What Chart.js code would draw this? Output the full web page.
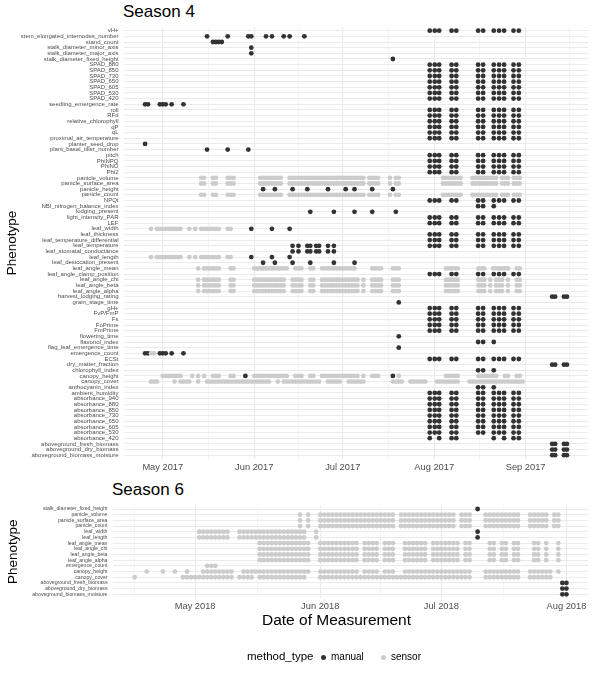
<!DOCTYPE html>
<html>
<head>
<meta charset="utf-8">
<script src="https://cdn.jsdelivr.net/npm/chart.js@4.4.0/dist/chart.umd.min.js"></script>
<style>
  html, body { margin: 0; padding: 0; background: #fff; }
  body { width: 595px; height: 680px; position: relative; overflow: hidden; font-family: "Liberation Sans", Arial, sans-serif; }
  canvas { position: absolute; left: 0; }
  .txt { position: absolute; white-space: nowrap; line-height: 1; color: #000; }
  .dot { position: absolute; width: 5px; height: 5px; border-radius: 50%; }
</style>
</head>
<body>
<div class="txt" style="left:123px;top:3px;font-size:17px;">Season 4</div>
<canvas id="c4" width="595" height="480" style="top:0px"></canvas>
<div class="txt" style="left:112px;top:481px;font-size:17px;">Season 6</div>
<canvas id="c6" width="595" height="150" style="top:480px"></canvas>
<div class="txt" style="left:262px;top:612px;font-size:15.5px;">Date of Measurement</div>
<div class="txt" style="left:247px;top:651px;font-size:11.5px;">method_type</div>
<div class="dot" style="left:320.5px;top:654.5px;background:#333333"></div>
<div class="txt" style="left:331px;top:652px;font-size:10px;color:#000;">manual</div>
<div class="dot" style="left:380.5px;top:654.5px;background:#CCCCCC"></div>
<div class="txt" style="left:391px;top:652px;font-size:10px;color:#000;">sensor</div>

<script>
// ---------------- DATA ----------------
const season4Labels = ['vH+','stem_elongated_internodes_number','stand_count','stalk_diameter_minor_axis','stalk_diameter_major_axis','stalk_diameter_fixed_height','SPAD_880','SPAD_850','SPAD_730','SPAD_650','SPAD_605','SPAD_530','SPAD_420','seedling_emergence_rate','roll','RFd','relative_chlorophyll','qP','qL','proximal_air_temperature','planter_seed_drop','plant_basal_tiller_number','pitch','PhiNPQ','PhiNO','Phi2','panicle_volume','panicle_surface_area','panicle_height','panicle_count','NPQt','NBI_nitrogen_balance_index','lodging_present','light_intensity_PAR','LEF','leaf_width','leaf_thickness','leaf_temperature_differential','leaf_temperature','leaf_stomatal_conductance','leaf_length','leaf_desiccation_present','leaf_angle_mean','leaf_angle_clamp_position','leaf_angle_chi','leaf_angle_beta','leaf_angle_alpha','harvest_lodging_rating','grain_stage_time','gH+','FvP/FmP','Fs','FoPrime','FmPrime','flowering_time','flavonol_index','flag_leaf_emergence_time','emergence_count','ECSt','dry_matter_fraction','chlorophyll_index','canopy_height','canopy_cover','anthocyanin_index','ambient_humidity','absorbance_940','absorbance_880','absorbance_850','absorbance_730','absorbance_650','absorbance_605','absorbance_530','absorbance_420','aboveground_fresh_biomass','aboveground_dry_biomass','aboveground_biomass_moisture'];

const season6Labels = ['stalk_diameter_fixed_height','panicle_volume','panicle_surface_area','panicle_count','leaf_width','leaf_length','leaf_angle_mean','leaf_angle_chi','leaf_angle_beta','leaf_angle_alpha','emergence_count','canopy_height','canopy_cover','aboveground_fresh_biomass','aboveground_dry_biomass','aboveground_biomass_moisture'];

// Season 4 (2017) measurement times, "month/day" (decimal day = time of day)
const aug17 = '7/30.5 8/1.2 8/2.7 8/6.9 8/8.5 8/15.9 8/17.6 8/21.2 8/23 8/24.7 8/27.9 8/29.7';
const abs420_17 = '7/30.5 8/2.7 8/6.9 8/8.5 8/21.2 8/24.7 8/27.9 8/29.7';
const dualex17 = '8/15.9 8/17.6 8/21.2';
const harvest17 = '9/10 9/11 9/14 9/15';
const porometer17 = '6/14 6/16 6/19 6/20 6/22 6/23 6/26 6/28';
const internodes17 = '5/16 5/23 5/30 5/31 6/5 6/7 6/11 6/13 6/18';
const standCount17 = '5/18 5/19 5/20 5/21';
const emergence17 = '4/25 4/26 4/30 5/1 5/2 5/4 5/8';
const tiller17 = '5/16 5/23 5/30';
const panicleHeight17 = '6/4 6/8 6/14 6/19 6/26 7/2 7/5 7/11 7/18';
const lodging17 = '6/20 6/28 7/5 7/11 7/19';
const leafManual17 = '5/31 6/7 6/13';
const desiccation17 = '6/4 6/8 6/14 6/20 6/28 7/5';

const panicle17 = '5/14 5/15 5/18 5/19 5/23 5/24 5/25 6/3 6/4 6/5 6/6 6/7 6/8 6/9 6/10 6/13 6/14 6/15 6/16 6/17 6/18 6/19 6/20 6/21 6/22 6/23 6/24 6/25 6/26 6/27 6/28 6/29 6/30 7/1 7/2 7/3 7/4 7/5 7/6 7/7 7/8 7/10 7/11 7/12 7/13 7/17 7/19 7/20 8/4 8/5 8/6 8/7 8/8 8/9 8/10 8/14 8/15 8/16 8/17 8/18 8/19 8/20 8/21 8/22 8/24 8/25 8/26 8/28 8/29 8/30';
const leafWL17 = '4/27 4/29 4/30 5/1 5/2 5/3 5/4 5/5 5/6 5/7 5/10 5/12 5/14 5/15 5/16 5/17 5/18 5/19 5/20 5/23 5/24';
const leafAngleMean17 = '5/13 5/15 5/16 5/17 5/18 5/19 5/20 5/24 5/25 6/1 6/2 6/3 6/4 6/5 6/6 6/7 6/8 6/9 6/10 6/11 6/12 6/15 6/16 6/17 6/20 6/21 6/24 6/25 6/26 6/27 6/28 6/29 6/30 7/1 7/2 7/3 7/4 7/5 7/11 7/12 7/13 7/14 7/18 7/19 7/20 8/5 8/6 8/7 8/8 8/9 8/16 8/17 8/18 8/21 8/22 8/23 8/24 8/25 8/26 8/29 8/30';
const leafAngle17 = '5/13 5/15 5/16 5/17 5/18 5/19 5/20 5/24 5/25 6/1 6/2 6/3 6/4 6/5 6/6 6/7 6/8 6/9 6/10 6/11 6/14 6/15 6/16 6/17 6/20 6/21 6/24 6/25 6/26 6/27 6/28 6/29 6/30 7/1 7/2 7/3 7/4 7/5 7/6 7/8 7/11 7/12 7/13 7/14 7/18 7/19 7/20 8/5 8/6 8/7 8/8 8/9 8/16 8/17 8/18 8/20 8/22 8/23 8/24 8/26 8/29 8/30';
const canopyHeight17 = '5/1 5/2 5/3 5/4 5/5 5/6 5/7 5/11 5/13 5/15 5/18 5/19 5/20 5/24 5/25 6/1 6/2 6/3 6/4 6/5 6/6 6/7 6/8 6/9 6/10 6/11 6/12 6/15 6/16 6/17 6/20 6/21 6/24 6/25 6/26 6/27 6/28 6/29 6/30 7/1 7/2 7/3 7/4 7/5 7/6 7/8 7/11 7/12 7/13 7/20 8/5 8/6 8/7 8/8 8/9 8/16 8/17 8/18 8/19 8/20 8/21 8/22 8/25 8/26 8/29 8/30';
const canopyCover17 = '4/27 4/28 4/29 5/5 5/7 5/8 5/9 5/10 5/13 5/16 5/17 5/18 5/19 5/20 5/21 5/22 5/23 5/24 5/25 5/26 5/27 5/28 5/29 5/30 5/31 6/1 6/2 6/3 6/4 6/5 6/6 6/9 6/11 6/12 6/13 6/14 6/15 6/16 6/17 6/18 6/19 6/20 6/21 6/22 6/23 6/26 6/27 6/28 6/29 6/30 7/3 7/4 7/5 7/6 7/7 7/8 7/18 7/19 7/20 7/21 7/24 7/25 7/26 7/27 7/28 7/29 8/2 8/3 8/4 8/5 8/6 8/7 8/8 8/9 8/13 8/14 8/15 8/16 8/17 8/18 8/19 8/20 8/21 8/22 8/23 8/24 8/25 8/26 8/27 8/28 8/29 8/30 8/31';
const emergenceSensor17 = '4/27 4/28';

const manual4 = [
  ['vH+', aug17], ['stem_elongated_internodes_number', internodes17], ['stand_count', standCount17],
  ['stalk_diameter_minor_axis', '5/31'], ['stalk_diameter_major_axis', '5/31'], ['stalk_diameter_fixed_height', '7/18'],
  ['SPAD_880', aug17], ['SPAD_850', aug17], ['SPAD_730', aug17], ['SPAD_650', aug17], ['SPAD_605', aug17], ['SPAD_530', aug17], ['SPAD_420', aug17],
  ['seedling_emergence_rate', emergence17],
  ['roll', aug17], ['RFd', aug17], ['relative_chlorophyll', aug17], ['qP', aug17], ['qL', aug17], ['proximal_air_temperature', aug17],
  ['planter_seed_drop', '4/25'], ['plant_basal_tiller_number', tiller17],
  ['pitch', aug17], ['PhiNPQ', aug17], ['PhiNO', aug17], ['Phi2', aug17],
  ['panicle_height', panicleHeight17], ['NPQt', aug17], ['NBI_nitrogen_balance_index', dualex17], ['lodging_present', lodging17],
  ['light_intensity_PAR', aug17], ['LEF', aug17], ['leaf_width', leafManual17],
  ['leaf_thickness', aug17], ['leaf_temperature_differential', aug17], ['leaf_temperature', aug17], ['leaf_temperature', porometer17],
  ['leaf_stomatal_conductance', porometer17], ['leaf_length', leafManual17], ['leaf_desiccation_present', desiccation17],
  ['leaf_angle_clamp_position', aug17], ['harvest_lodging_rating', harvest17], ['grain_stage_time', '7/20'],
  ['gH+', aug17], ['FvP/FmP', aug17], ['Fs', aug17], ['FoPrime', aug17], ['FmPrime', aug17],
  ['flowering_time', '7/20'], ['flavonol_index', dualex17], ['flag_leaf_emergence_time', '7/20'],
  ['emergence_count', emergence17], ['ECSt', aug17], ['dry_matter_fraction', harvest17], ['chlorophyll_index', dualex17],
  ['canopy_height', '5/29 7/18'], ['anthocyanin_index', dualex17], ['ambient_humidity', aug17],
  ['absorbance_940', aug17], ['absorbance_880', aug17], ['absorbance_850', aug17], ['absorbance_730', aug17],
  ['absorbance_650', aug17], ['absorbance_605', aug17], ['absorbance_530', aug17], ['absorbance_420', abs420_17],
  ['aboveground_fresh_biomass', harvest17], ['aboveground_dry_biomass', harvest17], ['aboveground_biomass_moisture', harvest17]
];
const sensor4 = [
  ['panicle_volume', panicle17], ['panicle_surface_area', panicle17], ['panicle_count', panicle17],
  ['leaf_width', leafWL17], ['leaf_length', leafWL17],
  ['leaf_angle_mean', leafAngleMean17], ['leaf_angle_chi', leafAngle17], ['leaf_angle_beta', leafAngle17], ['leaf_angle_alpha', leafAngle17],
  ['emergence_count', emergenceSensor17], ['canopy_height', canopyHeight17], ['canopy_cover', canopyCover17]
];

// Season 6 (2018)
const panicle18 = '5/27 5/29 6/1 6/2 6/3 6/4 6/5 6/6 6/7 6/8 6/9 6/10 6/11 6/12 6/13 6/14 6/15 6/16 6/17 6/18 6/19 6/21 6/22 6/23 6/24 6/25 6/26 6/27 6/28 6/29 6/30 7/1 7/2 7/3 7/4 7/6 7/7 7/8 7/12 7/13 7/14 7/15 7/16 7/17 7/18 7/19 7/20 7/23 7/24 7/25 7/26 7/27 7/29 7/30';
const leafWL18 = '5/2 5/3 5/4 5/5 5/6 5/7 5/8 5/9 5/12 5/13 5/14 5/15 5/16 5/17 5/18 5/19 5/20 5/21 5/22 5/23 5/24 5/25 5/26 5/27 5/28 5/31';
const leafAngle18 = '5/17 5/18 5/19 5/20 5/21 5/22 5/23 5/24 5/25 5/26 5/27 5/28 5/29 6/1 6/2 6/3 6/4 6/5 6/6 6/7 6/8 6/9 6/10 6/12 6/13 6/14 6/15 6/17 6/18 6/19 6/22 6/23 6/24 6/25 6/26 6/27 6/29 6/30 7/1 7/2 7/3 7/4 7/5 7/7 7/8 7/13 7/14 7/16 7/17 7/19 7/20 7/24 7/25 7/27 7/30';
const emergence18 = '5/4 5/5 5/6';
const canopyHeight18 = '4/19 4/23 4/26 4/29 5/3 5/4 5/5 5/6 5/7 5/8 5/9 5/10 5/13 5/14 5/15 5/16 5/17 5/18 5/19 5/20 5/21 5/22 5/23 5/24 5/25 5/26 5/27 5/28 5/29 6/1 6/2 6/3 6/4 6/5 6/6 6/7 6/8 6/9 6/10 6/12 6/13 6/14 6/15 6/17 6/18 6/19 6/22 6/23 6/24 6/25 6/26 6/27 6/28 6/29 6/30 7/1 7/2 7/3 7/4 7/5 7/6 7/7 7/8 7/12 7/13 7/14 7/15 7/16 7/17 7/18 7/19 7/20 7/23 7/24 7/25 7/26 7/27 7/28 7/30';
const canopyCover18 = '4/16 4/28 4/29 4/30 5/1 5/2 5/3 5/4 5/5 5/6 5/7 5/8 5/9 5/10 5/12 5/13 5/14 5/15 5/17 5/18 5/19 5/20 5/21 5/22 5/23 5/24 5/25 5/26 5/27 5/28 6/1 6/2 6/3 6/4 6/5 6/6 6/7 6/8 6/9 6/10 6/11 6/12 6/13 6/14 6/15 6/16 6/17 6/18 6/19 6/20 6/21 6/22 6/23 6/24 6/25 6/26 6/27 6/28 6/29 6/30 7/1 7/2 7/3 7/4 7/5 7/6 7/7 7/8 7/12 7/13 7/14 7/15 7/16 7/17 7/18 7/19 7/20 7/23 7/24 7/25 7/26 7/27 7/28';
const biomass18 = '7/31 8/1';

const manual6 = [
  ['stalk_diameter_fixed_height', '7/10'], ['leaf_width', '7/10'], ['leaf_length', '7/10'],
  ['aboveground_fresh_biomass', biomass18], ['aboveground_dry_biomass', biomass18], ['aboveground_biomass_moisture', biomass18]
];
const sensor6 = [
  ['panicle_volume', panicle18], ['panicle_surface_area', panicle18], ['panicle_count', panicle18],
  ['leaf_width', leafWL18], ['leaf_length', leafWL18],
  ['leaf_angle_mean', leafAngle18], ['leaf_angle_chi', leafAngle18], ['leaf_angle_beta', leafAngle18], ['leaf_angle_alpha', leafAngle18],
  ['emergence_count', emergence18], ['canopy_height', canopyHeight18], ['canopy_cover', canopyCover18]
];

const methodColors = { manual: '#333333', sensor: '#CCCCCC' };
const monthNames = ['Jan','Feb','Mar','Apr','May','Jun','Jul','Aug','Sep','Oct','Nov','Dec'];

// ---------------- HELPERS ----------------
const FAMILY = '"Liberation Sans", Arial, Helvetica, sans-serif';
function toDays(str, year) {
  return str.trim().split(/\s+/).map(t => {
    const [m, d] = t.split('/').map(Number);
    const whole = Math.floor(d);
    return Date.UTC(year, m - 1, whole) / 864e5 + (d - whole);
  });
}
function buildPoints(rows, labels, year) {
  const pts = [];
  rows.forEach(([name, list]) => {
    const yi = labels.indexOf(name);
    toDays(list, year).forEach(x => pts.push({ x: x, y: yi }));
  });
  return pts;
}
function fmtMonth(v) {
  const d = new Date(Math.round(v) * 864e5);
  return monthNames[d.getUTCMonth()] + ' ' + d.getUTCFullYear();
}

function makeChart(id, labels, manualRows, sensorRows, year, o) {
  const man = buildPoints(manualRows, labels, year);
  const sen = buildPoints(sensorRows, labels, year);
  const xs = man.concat(sen).map(p => p.x);
  const lo = Math.min(...xs), hi = Math.max(...xs), ex = (hi - lo) * 0.05;
  const xmin = lo - ex, xmax = hi + ex;
  const majors = [];
  for (let m = 0; m <= 12; m++) majors.push(Date.UTC(year, m, 1) / 864e5);
  const xticks = [];
  majors.forEach((v, i) => {
    if (v >= xmin && v <= xmax) xticks.push({ value: v, mj: true });
    if (i < majors.length - 1) {
      const mid = (v + majors[i + 1]) / 2;
      if (mid >= xmin && mid <= xmax) xticks.push({ value: mid, mj: false });
    }
  });
  const majorSet = new Set(xticks.filter(t => t.mj).map(t => t.value));

  return new Chart(document.getElementById(id), {
    type: 'scatter',
    data: {
      datasets: [
        { label: 'sensor', data: sen, backgroundColor: methodColors.sensor, borderWidth: 0, pointRadius: 2.4, pointHoverRadius: 2.4 },
        { label: 'manual', data: man, backgroundColor: methodColors.manual, borderWidth: 0, pointRadius: 2.4, pointHoverRadius: 2.4 }
      ]
    },
    options: {
      responsive: false,
      animation: false,
      events: [],
      layout: { padding: { left: 0, right: 7, top: o.top, bottom: 0 } },
      plugins: { legend: { display: false }, tooltip: { enabled: false }, title: { display: false } },
      scales: {
        x: {
          type: 'linear', min: xmin, max: xmax,
          afterBuildTicks: s => { s.ticks = xticks.map(t => ({ value: t.value, mj: t.mj })); },
          afterFit: s => { s.height = o.xHeight; },
          ticks: {
            autoSkip: false, maxRotation: 0, minRotation: 0, padding: 3,
            font: { size: 9.3, family: FAMILY }, color: '#4D4D4D',
            callback: v => majorSet.has(v) ? fmtMonth(v) : ''
          },
          grid: {
            color: '#EBEBEB', drawTicks: false,
            lineWidth: ctx => (ctx.tick && ctx.tick.mj) ? 1.1 : 0.55
          },
          border: { display: false }
        },
        y: {
          type: 'linear', reverse: true, min: -0.6, max: labels.length - 1 + 0.6,
          afterBuildTicks: s => { s.ticks = labels.map((_, i) => ({ value: i })); },
          afterFit: s => { s.width = o.yWidth; },
          ticks: {
            autoSkip: false, padding: o.yPad,
            font: { size: o.yFont, family: FAMILY }, color: '#4D4D4D',
            callback: v => labels[v]
          },
          grid: { color: '#EBEBEB', lineWidth: 1, drawTicks: false },
          border: { display: false },
          title: { display: true, text: 'Phenotype', color: '#000', font: { size: 13.5, family: FAMILY }, padding: { top: o.titlePad, bottom: 0 } }
        }
      }
    }
  });
}

makeChart('c4', season4Labels, manual4, sensor4, 2017, { top: 27.3, xHeight: 21.4, yWidth: 124, yFont: 6, yPad: 5.5, titlePad: 4 });
makeChart('c6', season6Labels, manual6, sensor6, 2018, { top: 25.6, xHeight: 32.3, yWidth: 113, yFont: 5.2, yPad: 5.5, titlePad: 5 });
</script>
</body>
</html>
